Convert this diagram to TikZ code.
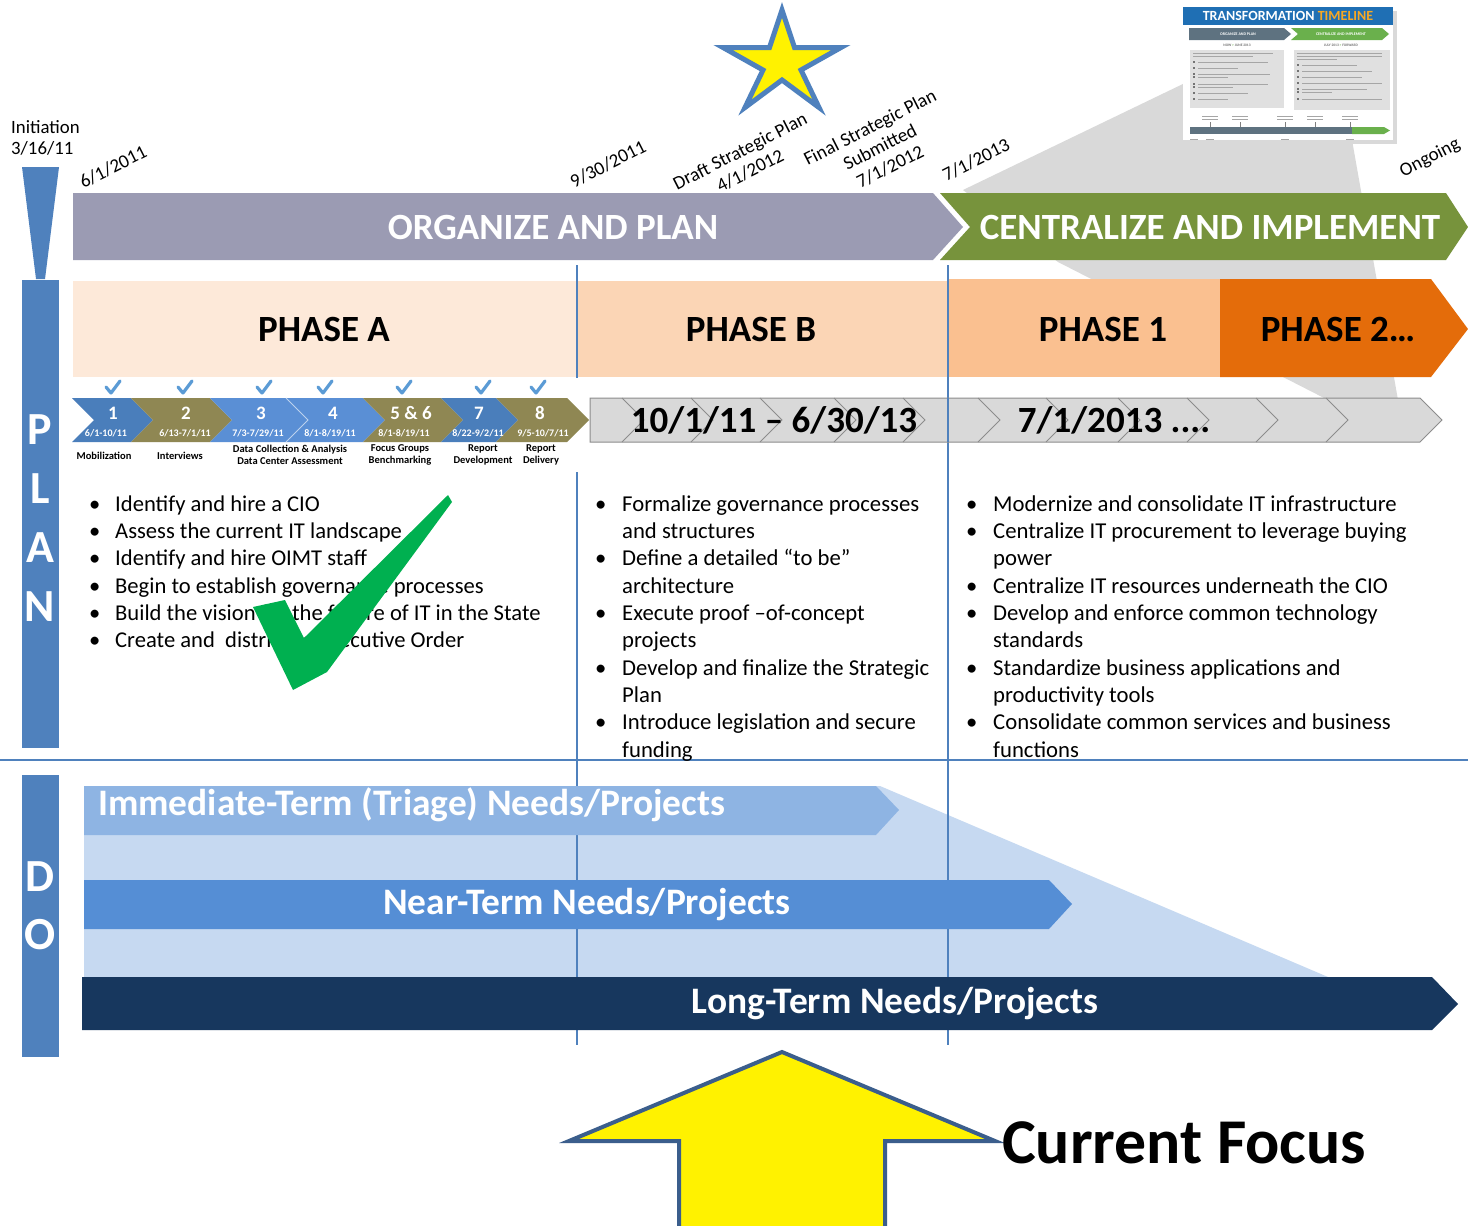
\documentclass[tikz,border=0pt]{standalone}
\usepackage{fontspec}
\setmainfont{Carlito}
\usetikzlibrary{shapes.geometric}
\definecolor{planblue}{HTML}{4F81BD}
\definecolor{orgpurple}{HTML}{9B9BB3}
\definecolor{centgreen}{HTML}{77933C}
\definecolor{phA}{HTML}{FDE9D9}
\definecolor{phB}{HTML}{FBD5B5}
\definecolor{phone}{HTML}{FAC090}
\definecolor{phtwo}{HTML}{E46C0A}
\definecolor{stepblueA}{HTML}{4A7EBB}
\definecolor{stepblueB}{HTML}{5A8FD5}
\definecolor{olive}{HTML}{8F8753}
\definecolor{checkblue}{HTML}{5B9BD5}
\definecolor{rowgray}{HTML}{D9D9D9}
\definecolor{rowedge}{HTML}{8C8C8C}
\definecolor{calloutgray}{HTML}{D9D9D9}
\definecolor{dolight}{HTML}{C6D9F1}
\definecolor{immed}{HTML}{8EB4E3}
\definecolor{near}{HTML}{558ED5}
\definecolor{longterm}{HTML}{17375E}
\definecolor{arrowedge}{HTML}{3B5E8C}
\definecolor{bigcheck}{HTML}{00B050}
\definecolor{thumbblue}{HTML}{1F6FB4}
\definecolor{thumborange}{HTML}{F7A823}
\definecolor{thumbslate}{HTML}{5E7280}
\definecolor{thumbgreen}{HTML}{6AB04C}
\newcommand{\fsz}[2]{\fontsize{#1}{#2}\selectfont}
\begin{document}
\begin{tikzpicture}[x=1pt,y=-1pt,
  datelbl/.style={inner sep=0, rotate=27, align=center, font=\fsz{19}{22}},
  bartext/.style={inner sep=0, text=white, font=\fsz{37}{40}\bfseries},
  phasetext/.style={inner sep=0, text=black, font=\fsz{37}{40}\bfseries},
  stepnum/.style={inner sep=0, text=white, font=\fsz{19}{20}\bfseries},
  stepdate/.style={inner sep=0, text=white, font=\fsz{10}{11}\bfseries},
  steplbl/.style={inner sep=0, text=black, align=center, font=\fsz{10.5}{12}\bfseries},
  checkmk/.style={draw=checkblue, line width=3.2, line cap=round, line join=round},
  bigletter/.style={inner sep=0, text=white, font=\fsz{46}{46}\bfseries},
  vline/.style={draw=planblue, line width=1.6},
  dobar/.style={inner sep=0, text=white, font=\fsz{37.4}{40}\bfseries},
  bullets/.style={anchor=north west, inner sep=0},
  rowtext/.style={inner sep=0, text=black, font=\fsz{37}{40}\bfseries},
  thumbline/.style={draw=black!35, line width=0.9}
]
\useasboundingbox (0,0) rectangle (1468,1226);
\fill[white] (0,0) rectangle (1468,1226);

% ---- gray callout behind everything
\fill[calloutgray] (1185,83) -- (963,190) -- (1058,262) -- (1328,400) -- (1398,400) -- (1352,140) -- cycle;

% ---- thumbnail
\fill[black!15] (1187,11) rectangle (1397,144);
\fill[white] (1183,7) rectangle (1393,140);
\fill[thumbblue] (1183,7) rectangle (1393,25);
\node[inner sep=0, text=white, font=\fsz{14}{14}\bfseries] (thtitle) at (1288,16) {TRANSFORMATION \textcolor{thumborange}{TIMELINE}};
\fill[thumbslate] (1189,28) -- (1284,28) -- (1291,34) -- (1284,40) -- (1189,40) -- cycle;
\fill[thumbgreen] (1291,28) -- (1382,28) -- (1389,34) -- (1382,40) -- (1291,40) -- (1298,34) -- cycle;
\node[inner sep=0, text=white, font=\fsz{4}{4}\bfseries] (thorg) at (1238,34) {ORGANIZE AND PLAN};
\node[inner sep=0, text=white, font=\fsz{4}{4}\bfseries] (thcen) at (1341,34) {CENTRALIZE AND IMPLEMENT};
\node[inner sep=0, text=black!55, font=\fsz{3.6}{4}\bfseries] (thnow) at (1237,45) {NOW \textcolor{thumbgreen}{>} JUNE 2013};
\node[inner sep=0, text=black!55, font=\fsz{3.6}{4}\bfseries] (thjul) at (1341,45) {JULY 2013 \textcolor{thumbgreen}{>} FORWARD};
\fill[black!12] (1190,50) rectangle (1284,108);
\fill[black!12] (1294,50) rectangle (1390,110);
\foreach \yy/\ll in {53/80,56/60} \draw[thumbline] (1193,\yy) -- ++(\ll,0);
\foreach \yy/\ll in {62/70,68/40,74/72,77/30,84/70,87/35,93/50,99/30}{
  \fill[black!55] (1193,\yy-1.2) rectangle ++(2.4,2.4);
  \draw[thumbline] (1198,\yy) -- ++(\ll,0);}
\foreach \yy/\ll in {53/85,56/85,59/40} \draw[thumbline] (1297,\yy) -- ++(\ll,0);
\foreach \yy/\ll in {65/55,71/70,77/60,83/80,89/65,92/30,99/80}{
  \fill[black!55] (1297,\yy-1.2) rectangle ++(2.4,2.4);
  \draw[thumbline] (1302,\yy) -- ++(\ll,0);}
\foreach \xx in {1210,1240,1285,1315,1350}{
  \draw[thumbline, line width=0.6] (\xx-8,116) -- (\xx+8,116);
  \draw[thumbline, line width=0.6] (\xx-8,119) -- (\xx+8,119);
  \draw[black!50, line width=0.5] (\xx,122) -- (\xx,127);}
\fill[thumbslate] (1190,127) rectangle (1352,134);
\fill[thumbgreen] (1352,127) -- (1384,127) -- (1390,130.5) -- (1384,134) -- (1352,134) -- cycle;
\foreach \xx in {1194,1210,1285,1350} \draw[thumbline, line width=0.6] (\xx-4,139) -- (\xx+4,139);

% ---- star
\filldraw[fill=yellow, draw=planblue, line width=5, line join=miter] (782,10) -- (794.5,47.5) -- (841,47.5) -- (801,70) -- (819,107.5) -- (782,80) -- (745,107.5) -- (763,70) -- (723,47.5) -- (769.5,47.5) -- cycle;
\coordinate (star) at (782,63);

% ---- initiation & rotated dates
\node[inner sep=0, anchor=north west, align=left, font=\fsz{18.8}{21.5}] (init) at (11,120) {Initiation\\3/16/11};
\node[datelbl] (d1) at (113,167) {6/1/2011};
\node[datelbl] (d2) at (608,164) {9/30/2011};
\node[datelbl] (d3) at (745,161) {Draft Strategic Plan\\4/1/2012};
\node[datelbl] (d4) at (880,147) {Final Strategic Plan\\Submitted\\7/1/2012};
\node[datelbl] (d5) at (976,160) {7/1/2013};
\node[datelbl] (d6) at (1430,158) {Ongoing};

% ---- left PLAN / DO bars
\fill[planblue] (22,167) -- (59,167) -- (45,279) -- (36,279) -- cycle;
\fill[planblue] (22,280) rectangle (59,748);
\fill[planblue] (22,775) rectangle (59,1057);
\node[bigletter] (P) at (40,430) {P};
\node[bigletter] (L) at (40,489) {L};
\node[bigletter] (A) at (40,548) {A};
\node[bigletter] (N) at (40,607) {N};
\node[bigletter] (D) at (40,877) {D};
\node[bigletter] (O) at (40,935) {O};

% ---- top stage bars
\fill[centgreen] (940,193) -- (1446,193) -- (1468,227) -- (1446,260) -- (940,260) -- (970,227) -- cycle;
\fill[orgpurple] (73,193) -- (933,193) -- (963,227) -- (933,260) -- (73,260) -- cycle;
\node[bartext] (org) at (553,227) {ORGANIZE AND PLAN};
\node[bartext] (cen) at (1210,227) {CENTRALIZE AND IMPLEMENT};

% ---- phase row
\fill[phA] (73,281) rectangle (577,377);
\fill[phB] (577,281) rectangle (948,377);
\fill[phone] (948,279) rectangle (1220,377);
\fill[phtwo] (1220,279) -- (1431,279) -- (1468,329) -- (1431,377) -- (1220,377) -- cycle;
\node[phasetext] (pa) at (324,329) {PHASE A};
\node[phasetext] (pb) at (751,329) {PHASE B};
\node[phasetext] (p1) at (1103,329) {PHASE 1};
\node[phasetext] (p2) at (1338,329) {PHASE 2\ldots};

% ---- bottom light background
\fill[dolight] (84,786) -- (880,786) -- (1328,977) -- (84,977) -- cycle;

% ---- separators
\draw[vline] (577,265) -- (577,1045);
\draw[vline] (948,265) -- (948,1045);
\draw[planblue, line width=2] (0,760) -- (1468,760);

% ---- phase A step chevrons
\fill[white] (66,378) rectangle (592,472);
\foreach \xa/\xb/\cc in {72/131/stepblueA,131/210/olive,210/286/stepblueB,286/363/stepblueB,363/441/olive,441/496/stepblueA,496/567/olive}{
  \fill[\cc] (\xa,398) -- (\xb,398) -- ({\xb+22},420) -- (\xb,442) -- (\xa,442) -- ({\xa+22},420) -- cycle;}
\draw[white!60!stepblueB, line width=0.8] (286,398) -- (308,420) -- (286,442);
\foreach \cx in {112,184,263,324,403,482,537}
  \draw[checkmk] (\cx-6,387) -- (\cx-1,393) -- (\cx+8,381);
\node[stepnum] (n1) at (113,413) {1};
\node[stepnum] (n2) at (186,413) {2};
\node[stepnum] (n3) at (261,413) {3};
\node[stepnum] (n4) at (333,413) {4};
\node[stepnum] (n5) at (411,413) {5 \& 6};
\node[stepnum] (n7) at (479,413) {7};
\node[stepnum] (n8) at (540,413) {8};
\node[stepdate] (t1) at (106,433) {6/1-10/11};
\node[stepdate] (t2) at (185,433) {6/13-7/1/11};
\node[stepdate] (t3) at (258,433) {7/3-7/29/11};
\node[stepdate] (t4) at (330,433) {8/1-8/19/11};
\node[stepdate] (t5) at (404,433) {8/1-8/19/11};
\node[stepdate] (t7) at (478,433) {8/22-9/2/11};
\node[stepdate] (t8) at (543,433) {9/5-10/7/11};
\node[steplbl] (l1) at (104,456) {Mobilization};
\node[steplbl] (l2) at (180,456) {Interviews};
\node[steplbl] (l3) at (290,455) {Data Collection \& Analysis\\Data Center Assessment};
\node[steplbl] (l5) at (400,455) {Focus Groups\\Benchmarking};
\node[steplbl] (l7) at (483,455) {Report\\Development};
\node[steplbl] (l8) at (541,455) {Report\\Delivery};

% ---- gray timeline row
\filldraw[fill=rowgray, draw=rowedge, line width=1] (590,398) -- (1420,398) -- (1442,420) -- (1420,442) -- (590,442) -- cycle;
\foreach \tx in {644,713,782,856,925,1000,1068,1140,1209,1278,1348}
  \draw[rowedge, line width=0.8] (\tx-22,398) -- (\tx,420) -- (\tx-22,442);
\draw[vline] (948,398) -- (948,442);
\node[rowtext] (r1) at (774,420) {10/1/11 -- 6/30/13};
\node[rowtext] (r2) at (1114,420) {7/1/2013 ....};

% ---- bullet columns
\node[bullets] (colA) at (89,492) {\fsz{22.6}{27.3}\begin{tabular}{@{}p{26pt}@{}l@{}}
\textbullet & Identify and hire a CIO\\
\textbullet & Assess the current IT landscape\\
\textbullet & Identify and hire OIMT staff\\
\textbullet & Begin to establish governance processes\\
\textbullet & Build the vision for the future of IT in the State\\
\textbullet & Create and\ \ distribute Executive Order
\end{tabular}};
\node[bullets] (colB) at (595,492) {\fsz{22.7}{27.3}\begin{tabular}{@{}p{27pt}@{}l@{}}
\textbullet & Formalize governance processes\\
 & and structures\\
\textbullet & Define a detailed “to be”\\
 & architecture\\
\textbullet & Execute proof –of-concept\\
 & projects\\
\textbullet & Develop and finalize the Strategic\\
 & Plan\\
\textbullet & Introduce legislation and secure\\
 & funding
\end{tabular}};
\node[bullets] (col1) at (966,492) {\fsz{22.7}{27.3}\begin{tabular}{@{}p{27pt}@{}l@{}}
\textbullet & Modernize and consolidate IT infrastructure\\
\textbullet & Centralize IT procurement to leverage buying\\
 & power\\
\textbullet & Centralize IT resources underneath the CIO\\
\textbullet & Develop and enforce common technology\\
 & standards\\
\textbullet & Standardize business applications and\\
 & productivity tools\\
\textbullet & Consolidate common services and business\\
 & functions
\end{tabular}};

% ---- big green check
\fill[bigcheck] (253,607) -- (285,600) -- (304,638) -- (448,495) -- (452,502) -- (327,672) -- (293,690) -- cycle;

% ---- DO bars
\fill[immed] (84,786) -- (876,786) -- (899,810) -- (876,835) -- (84,835) -- cycle;
\fill[near] (84,880) -- (1049,880) -- (1072,904) -- (1049,929) -- (84,929) -- cycle;
\fill[longterm] (82,977) -- (1432,977) -- (1458,1004) -- (1432,1030) -- (82,1030) -- cycle;
\node[dobar, anchor=west] (imm) at (98,805) {Immediate-Term (Triage) Needs/Projects};
\node[dobar] (nt) at (587,905) {Near-Term Needs/Projects};
\node[dobar] (lt) at (895,1004) {Long-Term Needs/Projects};

% ---- current focus arrow
\filldraw[fill=yellow, draw=arrowedge, line width=4, line join=miter] (782,1052) -- (995,1141) -- (885,1141) -- (885,1232) -- (679,1232) -- (679,1141) -- (569,1141) -- cycle;
\node[inner sep=0, anchor=west, font=\fsz{63.8}{66}\bfseries] (cf) at (1002,1143) {Current Focus};
\end{tikzpicture}
\end{document}
